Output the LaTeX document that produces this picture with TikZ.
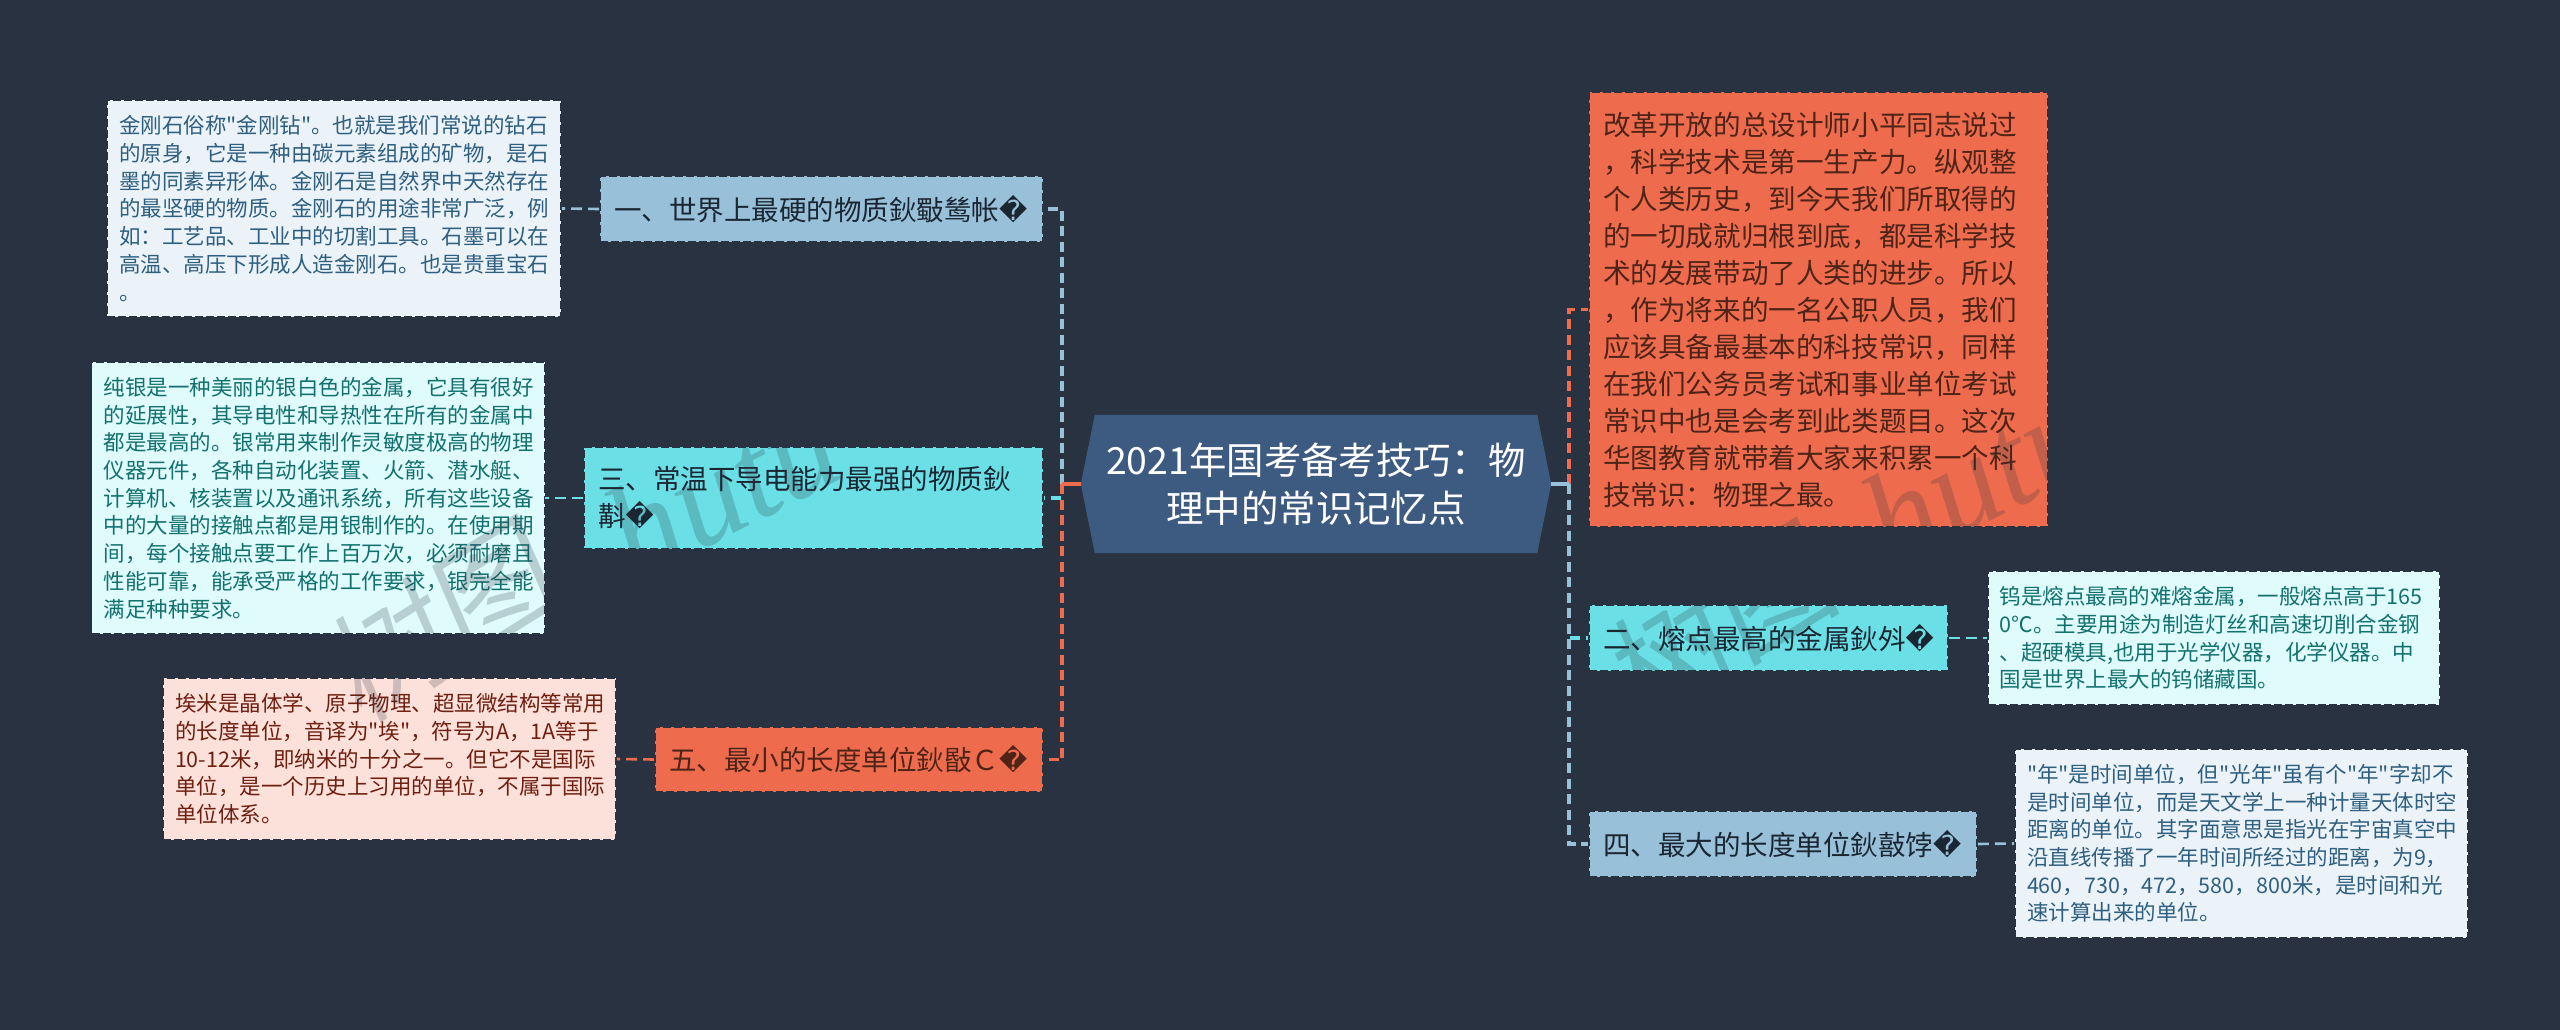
\documentclass[tikz,border=0pt]{standalone}
\usepackage{fontspec}
\newfontfamily\cjkmain{Noto Sans CJK SC}
\newfontfamily\symfont{DejaVu Sans}
\newfontfamily\wmlatin{Liberation Serif}[ItalicFont=* Italic]
\newfontfamily\wmcjk{Noto Sans CJK SC}[FakeSlant=0.15]
\usetikzlibrary{calc}
\definecolor{bgc}{HTML}{293241}
\definecolor{rootc}{HTML}{3D5A80}
\definecolor{bluec}{HTML}{98C1D9}
\definecolor{cyanc}{HTML}{6ADFE5}
\definecolor{orangec}{HTML}{EE6C4D}
\definecolor{paleblue}{HTML}{EBF3F8}
\definecolor{palecyan}{HTML}{E0FBFC}
\definecolor{palepeach}{HTML}{FCE1DB}
\definecolor{txtblue}{HTML}{2F5F80}
\definecolor{txtteal}{HTML}{12716F}
\definecolor{txtred}{HTML}{6E1F10}
\definecolor{txtbrown}{HTML}{4F2418}
\definecolor{txtdark}{HTML}{1B2633}
\newcommand{\badch}{{\symfont\char"FFFD}}
\tikzset{
  x=1pt,y=-1pt,
  framed/.style={rectangle,draw=bgc,line width=1.8pt,dash pattern=on 8pt off 3pt,align=left,inner ysep=0pt},
  detail/.style={framed,inner xsep=12pt,font=\cjkmain\fontsize{21.5}{27.7}\selectfont},
  bigdetail/.style={framed,inner xsep=14pt,font=\cjkmain\fontsize{27.6}{37}\selectfont},
  branch/.style={framed,inner xsep=14pt,text=txtdark,font=\cjkmain\fontsize{27.5}{37}\selectfont},
  trunkline/.style={line width=3.2pt,dash pattern=on 10pt off 5.5pt},
  linkline/.style={line width=2.6pt,dash pattern=on 11pt off 6pt},
  rootlink/.style={line width=3.2pt},
  mark1/.style={opacity=.22,text=bgc,inner sep=0pt}
}
\begin{document}
\begin{tikzpicture}
\fill[bgc] (0,0) rectangle (2560,1030);
\useasboundingbox (0,0) rectangle (2560,1030);
% root
\node[rectangle,inner sep=0pt,minimum width=470pt,minimum height=138pt] (root) at (1316,484) {};
\fill[rootc] (root.west) -- ($(root.north west)+(14,0)$) -- ($(root.north east)+(-14,0)$) -- (root.east) -- ($(root.south east)+(-14,0)$) -- ($(root.south west)+(14,0)$) -- cycle;
\node[text=white,align=center,inner sep=0pt,font=\cjkmain\fontsize{37.4}{48}\selectfont] (rootlabel) at (root) {2021年国考备考技巧：物\\理中的常识记忆点};
% branches
\node[branch,fill=bluec,text width=415pt,minimum height=66pt] (n1) at (821.5,209) {一、世界上最硬的物质鈥斀鸶帐\badch};
\node[branch,fill=cyanc,text width=431pt,minimum height=102pt] (n3) at (813.5,498) {三、常温下导电能力最强的物质鈥\\斠\badch};
\node[branch,fill=orangec,text=txtbrown,text width=360pt,minimum height=65pt] (n5) at (849,759.5) {五、最小的长度单位鈥敯Ｃ\badch};
\node[branch,fill=cyanc,text width=331pt,minimum height=66pt] (n2) at (1768.5,638) {二、熔点最高的金属鈥斘\badch};
\node[branch,fill=bluec,text width=360pt,minimum height=66pt] (n4) at (1783,844) {四、最大的长度单位鈥敼饽\badch};
% details
\node[detail,fill=paleblue,text=txtblue,text width=430pt,minimum height=217pt] (dA) at (334,208.5) {金刚石俗称"金刚钻"。也就是我们常说的钻石\\的原身，它是一种由碳元素组成的矿物，是石\\墨的同素异形体。金刚石是自然界中天然存在\\的最坚硬的物质。金刚石的用途非常广泛，例\\如：工艺品、工业中的切割工具。石墨可以在\\高温、高压下形成人造金刚石。也是贵重宝石\\。};
\node[detail,fill=palecyan,text=txtteal,text width=429pt,minimum height=272pt] (dB) at (318,498) {纯银是一种美丽的银白色的金属，它具有很好\\的延展性，其导电性和导热性在所有的金属中\\都是最高的。银常用来制作灵敏度极高的物理\\仪器元件，各种自动化装置、火箭、潜水艇、\\计算机、核装置以及通讯系统，所有这些设备\\中的大量的接触点都是用银制作的。在使用期\\间，每个接触点要工作上百万次，必须耐磨且\\性能可靠，能承受严格的工作要求，银完全能\\满足种种要求。};
\node[detail,fill=palepeach,text=txtred,text width=429pt,minimum height=162pt] (dC) at (389.5,759) {埃米是晶体学、原子物理、超显微结构等常用\\的长度单位，音译为"埃"，符号为A，1A等于\\10-12米，即纳米的十分之一。但它不是国际\\单位，是一个历史上习用的单位，不属于国际\\单位体系。};
\node[bigdetail,fill=orangec,text=txtbrown,text width=431pt,minimum height=435pt] (dD) at (1818.5,309.5) {改革开放的总设计师小平同志说过\\，科学技术是第一生产力。纵观整\\个人类历史，到今天我们所取得的\\的一切成就归根到底，都是科学技\\术的发展带动了人类的进步。所以\\，作为将来的一名公职人员，我们\\应该具备最基本的科技常识，同样\\在我们公务员考试和事业单位考试\\常识中也是会考到此类题目。这次\\华图教育就带着大家来积累一个科\\技常识：物理之最。};
\node[detail,fill=palecyan,text=txtteal,text width=428.5pt,minimum height=134pt] (dE) at (2214,638) {钨是熔点最高的难熔金属，一般熔点高于165\\0℃。主要用途为制造灯丝和高速切削合金钢\\、超硬模具,也用于光学仪器，化学仪器。中\\国是世界上最大的钨储藏国。};
\node[detail,fill=paleblue,text=txtblue,text width=429pt,minimum height=189pt] (dF) at (2241.5,843.5) {"年"是时间单位，但"光年"虽有个"年"字却不\\是时间单位，而是天文学上一种计量天体时空\\距离的单位。其字面意思是指光在宇宙真空中\\沿直线传播了一年时间所经过的距离，为9，\\460，730，472，580，800米，是时间和光\\速计算出来的单位。};
% trunk junctions
\coordinate (tl) at (1062,484);
\coordinate (tr) at (1569,484);
\draw[trunkline,bluec] (tl) |- (n1.east);
\draw[trunkline,cyanc] (tl) |- (n3.east);
\draw[trunkline,orangec] (tl) |- (n5.east);
\draw[trunkline,orangec] (tr) |- (dD.west);
\draw[trunkline,cyanc] (tr) |- (n2.west);
\draw[trunkline,bluec] (tr) |- (n4.west);
\draw[rootlink,orangec] (root.west) -- (tl);
\draw[rootlink,bluec] (root.east) -- (tr);
% links to details
\draw[linkline,bluec] (n1.west) -- (dA.east);
\draw[linkline,cyanc] (n3.west) -- (dB.east);
\draw[linkline,orangec] (n5.west) -- (dC.east);
\draw[linkline,cyanc] (n2.east) -- (dE.west);
\draw[linkline,bluec] (n4.east) -- (dF.west);
% watermarks
\node[mark1,rotate=32,font=\wmcjk\fontsize{120}{120}\selectfont] (wm1) at (438,622) {树图};
\node[mark1,rotate=27,font=\wmlatin\itshape\fontsize{135}{135}\selectfont] (wm2) at (722,488) {hutu};
\node[mark1,rotate=32,font=\wmcjk\fontsize{120}{120}\selectfont] (wm3) at (1718,625) {树图};
\node[mark1,rotate=27,font=\wmlatin\itshape\fontsize{135}{135}\selectfont] (wm4) at (1978,476) {hutu};
\end{tikzpicture}
\end{document}
